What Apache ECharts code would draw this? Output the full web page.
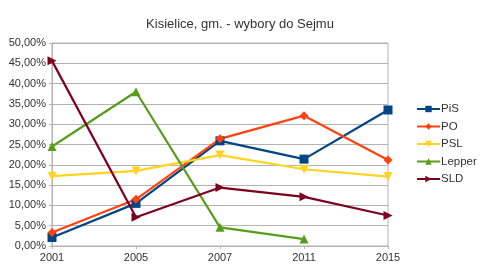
<!DOCTYPE html>
<html><head><meta charset="utf-8">
<script src="https://cdn.jsdelivr.net/npm/echarts@6/dist/echarts.min.js"></script>
<style>html,body{margin:0;padding:0;background:#fff}#c{width:480px;height:269px}</style>
</head><body><div id="c"></div>
<script>
var categories = ['2001','2005','2007','2011','2015'];
var PiS = [2.1, 10.5, 25.9, 21.4, 33.5];
var PO = [3.3, 11.5, 26.4, 32.1, 21.2];
var PSL = [17.2, 18.5, 22.4, 18.9, 17.1];
var Lepper = [24.5, 38.0, 4.6, 1.7, null];
var SLD = [45.6, 7.1, 14.4, 12.1, 7.5];
var yTicks = [0,5,10,15,20,25,30,35,40,45,50];

var chart = echarts.init(document.getElementById('c'));
function s(name, data, color, symbol, rot) {
  return {name:name, type:'line', data:data, symbol:symbol, symbolSize:9, symbolRotate:rot||0,
    lineStyle:{color:color,width:2.2}, itemStyle:{color:color}, animation:false, connectNulls:false};
}
chart.setOption({
  animation:false,
  title:{text:'Kisielice, gm. - wybory do Sejmu', left:'center', top:13,
    textStyle:{fontFamily:'Liberation Sans', fontSize:13, fontWeight:'normal', color:'#333'}},
  grid:{left:52, right:92, top:43, bottom:23, show:true, borderColor:'#b3b3b3', borderWidth:1},
  legend:{orient:'vertical', left:411, top:98, itemWidth:23, itemHeight:8, itemGap:5.5,
    textStyle:{fontFamily:'Liberation Sans', fontSize:11.5, color:'#333', padding:[0,0,0,-4]},
    data:['PiS','PO','PSL','Lepper','SLD']},
  xAxis:{type:'category', data:categories, boundaryGap:false,
    axisLine:{lineStyle:{color:'#b3b3b3'}}, axisTick:{show:true, length:3, lineStyle:{color:'#b3b3b3'}},
    axisLabel:{fontFamily:'Liberation Sans', fontSize:11, color:'#333', margin:6},
    splitLine:{show:false}},
  yAxis:{type:'value', min:0, max:50, interval:5,
    axisLine:{show:true, lineStyle:{color:'#b3b3b3'}}, axisTick:{show:true, length:3, lineStyle:{color:'#b3b3b3'}},
    axisLabel:{fontFamily:'Liberation Sans', fontSize:11, color:'#333', margin:6,
      formatter:function(v){return v.toFixed(2).replace('.',',')+'%';}},
    splitLine:{lineStyle:{color:'#b3b3b3'}}},
  series:[
    s('PiS', PiS, '#004586', 'rect'),
    s('PO', PO, '#ff420e', 'diamond'),
    s('PSL', PSL, '#ffd320', 'triangle', 180),
    s('Lepper', Lepper, '#579d1c', 'triangle'),
    s('SLD', SLD, '#7e0021', 'triangle', -90)
  ]
});
</script></body></html>
